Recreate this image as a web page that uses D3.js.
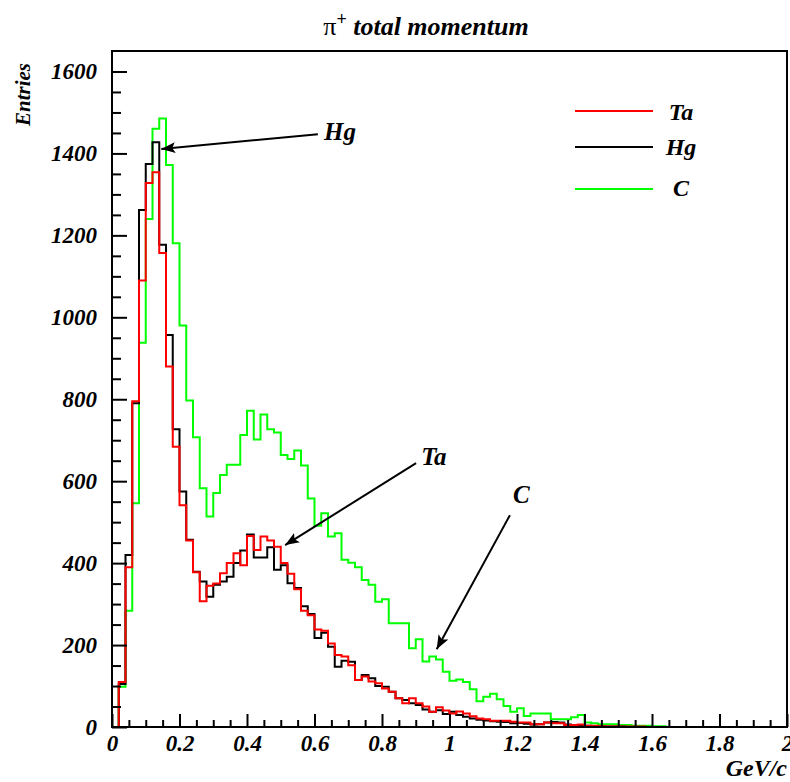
<!DOCTYPE html>
<html><head><meta charset="utf-8">
<script src="https://cdn.jsdelivr.net/npm/d3@7/dist/d3.min.js"></script>
<style>
body{margin:0;background:#fff}
svg{display:block}
text{font-family:"Liberation Serif","Times New Roman",serif;font-weight:bold;font-style:italic;fill:#000}
</style>
</head><body>
<svg id="chart" width="790" height="782"></svg>
<script>
// ---- data (100 bins of 0.02 GeV/c from 0 to 2) ----
const binWidth = 0.02;
const taCounts = [
  0,110,390,795,1090,1328,1354,1157,880,684,
  541,455,378,307,345,350,375,400,424,395,
  466,432,465,455,440,400,374,336,284,273,
  238,235,204,176,172,151,115,123,111,107,
  94,86,70,58,70,58,50,37,48,40,
  33,38,33,26,21,19,15,15,15,13,
  11,11,7,7,11,9,9,5,5,6,
  3,3,2,1,1,1,1,1,1,0,
  0,0,0,0,0,0,0,0,0,0,
  0,0,0,0,0,0,0,0,0,0];
const hgCounts = [
  0,105,420,790,1262,1374,1427,1177,957,727,
  575,457,379,355,318,347,355,367,400,431,
  470,414,414,439,384,395,351,339,295,276,
  217,230,196,147,162,159,115,127,119,100,
  98,86,70,66,58,54,43,37,41,32,
  37,29,25,21,18,16,14,13,12,9,
  10,8,6,7,11,12,11,6,5,4,
  3,2,2,1,1,1,0,0,0,0,
  0,0,0,0,0,0,0,0,0,0,
  0,0,0,0,0,0,0,0,0,0];
const cCounts = [
  0,98,284,546,938,1240,1460,1485,1372,1181,
  980,797,707,583,514,571,615,640,640,713,
  772,702,763,727,719,664,654,675,638,558,
  491,522,465,473,408,401,390,359,347,306,
  312,253,253,253,192,214,160,172,165,135,
  113,116,110,92,63,74,81,68,51,37,
  46,27,33,33,33,19,19,19,24,29,
  11,9,7,7,7,5,5,3,3,3,
  2,2,0,0,0,0,0,0,0,0,
  0,0,0,0,0,0,0,0,0,0];

const seriesNames = ["Ta","Hg","C"];
const seriesColors = ["#ff0000","#000000","#00ff00"];

const xMajorTicks = [0,0.2,0.4,0.6,0.8,1,1.2,1.4,1.6,1.8,2];
const xTickLabels = ["0","0.2","0.4","0.6","0.8","1","1.2","1.4","1.6","1.8","2"];
const yMajorTicks = [0,200,400,600,800,1000,1200,1400,1600];
const yTickLabels = ["0","200","400","600","800","1000","1200","1400","1600"];

// annotations: label, text anchor point, arrow start, arrow tip (data coords)
const annotations = [
  {label:"Hg", tx:0.628, ty:1433, x1:0.610, y1:1447, x2:0.146, y2:1411},
  {label:"Ta", tx:0.916, ty:639,  x1:0.901, y1:644,  x2:0.513, y2:444},
  {label:"C",  tx:1.188, ty:547,  x1:1.179, y1:517,  x2:0.962, y2:190}
];

// ---- layout ----
const L = 112, R = 787, T = 51, B = 727;
const svg = d3.select("#chart");
const x = d3.scaleLinear().domain([0, 2]).range([L, R]);
const y = d3.scaleLinear().domain([0, 1650]).range([B, T]);

// histograms (C first, then Hg, then Ta on top)
const order = [2, 1, 0];
const allCounts = [taCounts, hgCounts, cCounts];
const line = d3.line().x(d => x(d[0])).y(d => y(d[1])).curve(d3.curveStepAfter);
order.forEach(k => {
  const counts = allCounts[k];
  const pts = counts.map((v, i) => [i * binWidth, v]);
  pts.push([counts.length * binWidth, counts[counts.length - 1]]);
  svg.append("path").attr("d", line(pts))
    .attr("fill", "none").attr("stroke", seriesColors[k])
    .attr("stroke-width", 2).attr("stroke-linejoin", "miter");
});

// axes with ticks pointing inward
const xMinor = d3.range(0, 2.0001, 0.05).filter(v => Math.abs(v / 0.2 - Math.round(v / 0.2)) > 1e-6);
const yMinor = d3.range(0, 1650, 50).filter(v => v % 200 !== 0);

const gx = svg.append("g").attr("transform", `translate(0,${B})`);
gx.call(d3.axisBottom(x).tickValues(xMinor).tickSize(-7).tickFormat(""));
gx.call(g => g.select(".domain").remove());
const gx2 = svg.append("g").attr("transform", `translate(0,${B})`);
gx2.call(d3.axisBottom(x).tickValues(xMajorTicks).tickSize(-13).tickPadding(8)
  .tickFormat((d, i) => xTickLabels[i]));
gx2.call(g => g.select(".domain").remove());
gx2.selectAll("text").attr("font-size", 23).attr("font-family", null)
  .style("font-family", '"Liberation Serif",serif');

const gy = svg.append("g").attr("transform", `translate(${L},0)`);
gy.call(d3.axisLeft(y).tickValues(yMinor).tickSize(-9).tickFormat(""));
gy.call(g => g.select(".domain").remove());
const gy2 = svg.append("g").attr("transform", `translate(${L},0)`);
gy2.call(d3.axisLeft(y).tickValues(yMajorTicks).tickSize(-15).tickPadding(15)
  .tickFormat((d, i) => yTickLabels[i]));
gy2.call(g => g.select(".domain").remove());
gy2.selectAll("text").attr("font-size", 23).attr("font-family", null)
  .style("font-family", '"Liberation Serif",serif');

svg.selectAll(".tick line").attr("stroke", "#000").attr("stroke-width", 2);

// frame
svg.append("rect").attr("x", L).attr("y", T).attr("width", R - L).attr("height", B - T)
  .attr("fill", "none").attr("stroke", "#000").attr("stroke-width", 2);

// title
const title = svg.append("text").attr("x", 426).attr("y", 35).attr("text-anchor", "middle")
  .attr("font-size", 26);
title.append("tspan").text("\u03c0").style("font-style", "normal").style("font-weight", "normal");
title.append("tspan").text("+").attr("dy", -10).attr("font-size", 18).style("font-style", "normal");
title.append("tspan").text(" total momentum").attr("dy", 10);

// axis titles
svg.append("text").attr("x", R).attr("y", 776).attr("text-anchor", "end")
  .attr("font-size", 24).text("GeV/c");
svg.append("text").attr("transform", "translate(30,63) rotate(-90)")
  .attr("text-anchor", "end").attr("font-size", 21).text("Entries");

// legend
const legY = [111, 147, 189];
const legTextY = [120, 155, 196];
seriesNames.forEach((name, i) => {
  svg.append("line").attr("x1", 575).attr("x2", 653).attr("y1", legY[i]).attr("y2", legY[i])
    .attr("stroke", seriesColors[i]).attr("stroke-width", 2);
  svg.append("text").attr("x", 681).attr("y", legTextY[i]).attr("text-anchor", "middle")
    .attr("font-size", 24).text(name);
});

// arrows
const defs = svg.append("defs");
defs.append("marker").attr("id", "ah").attr("viewBox", "0 0 14 11")
  .attr("refX", 14).attr("refY", 5.5).attr("markerWidth", 14).attr("markerHeight", 11)
  .attr("markerUnits", "userSpaceOnUse").attr("orient", "auto")
  .append("path").attr("d", "M0,0 L14,5.5 L0,11 L3,5.5 Z").attr("fill", "#000");
annotations.forEach(a => {
  svg.append("line").attr("x1", x(a.x1)).attr("y1", y(a.y1)).attr("x2", x(a.x2)).attr("y2", y(a.y2))
    .attr("stroke", "#000").attr("stroke-width", 2).attr("marker-end", "url(#ah)");
  svg.append("text").attr("x", x(a.tx)).attr("y", y(a.ty)).attr("font-size", 25).text(a.label);
});
</script>
</body></html>
